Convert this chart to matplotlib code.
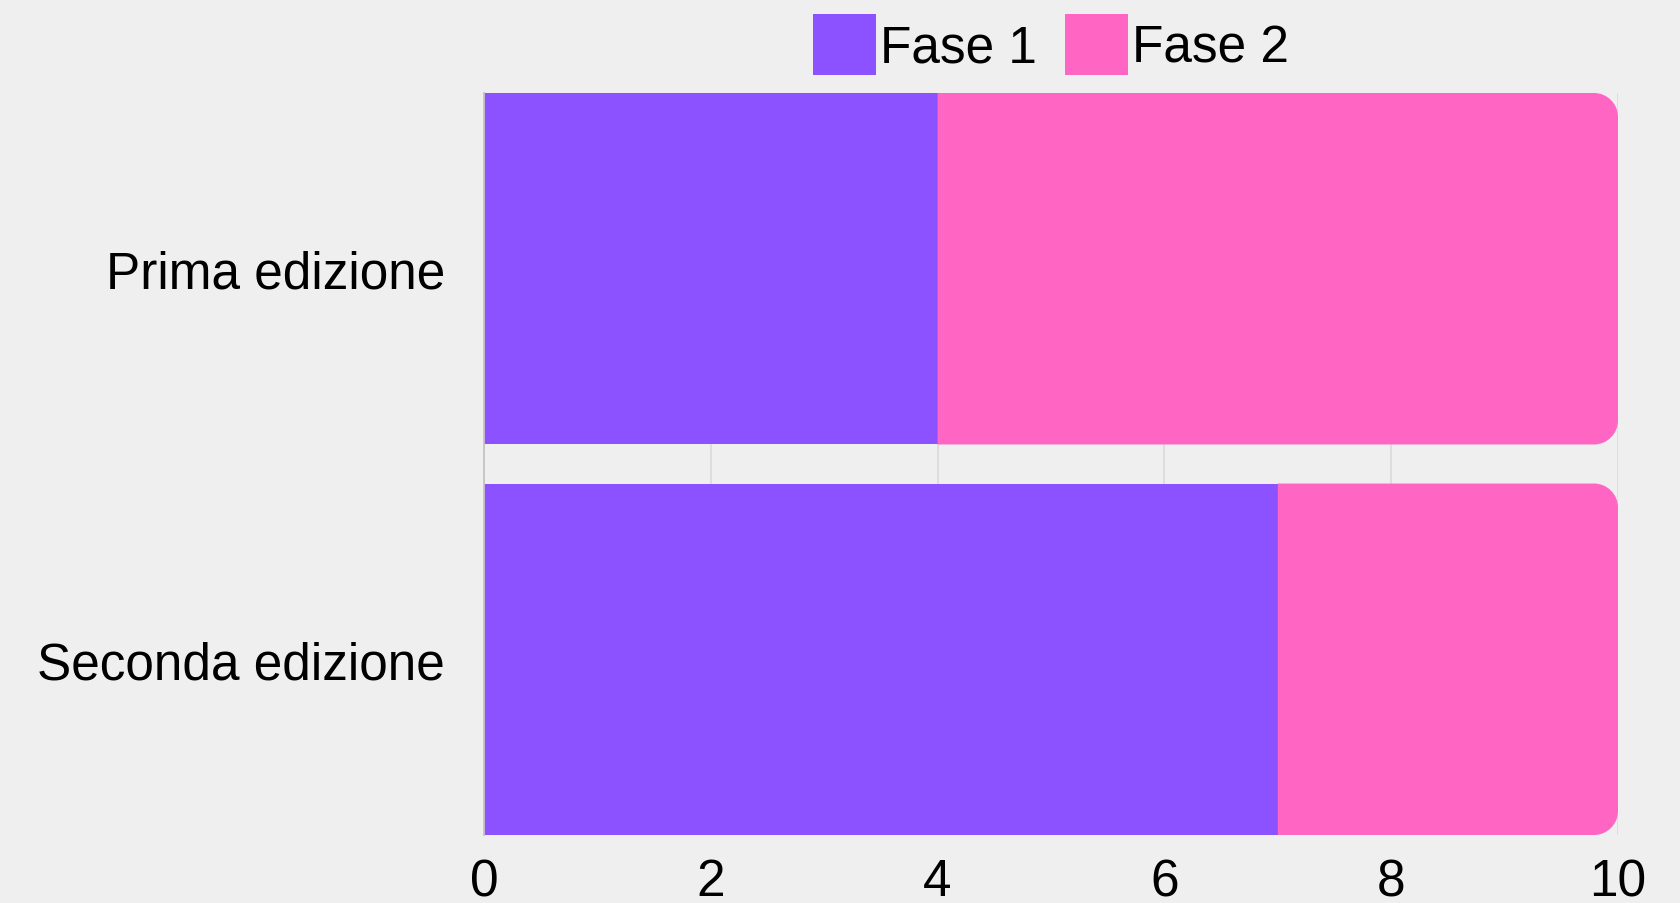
import matplotlib
matplotlib.use("Agg")
import matplotlib.pyplot as plt
from matplotlib.patches import Patch, PathPatch
from matplotlib.path import Path

plt.rcParams['font.family'] = ['Liberation Sans', 'DejaVu Sans']

categories = ["Prima edizione", "Seconda edizione"]
series_names = ["Fase 1", "Fase 2"]
fase1 = [4, 7]
fase2 = [6, 3]
x_ticks = [0, 2, 4, 6, 8, 10]

purple = "#8C52FF"
pink = "#FF66C4"
bg = "#EFEFEF"
grid_c = "#DCDCDC"
fs = 37.0

fig = plt.figure(figsize=(16.8, 9.04), dpi=100, facecolor=bg)
ax = fig.add_axes([484 / 1680, 1 - 836 / 904, (1618 - 484) / 1680, (836 - 94) / 904])
ax.set_facecolor(bg)

ax.set_xlim(0, 10)
ax.set_ylim(1.45, -0.45)
ax.set_xticks(x_ticks)
ax.set_xticklabels([str(t) for t in x_ticks])
ypos = list(range(len(categories)))
ax.set_yticks(ypos)
ax.set_yticklabels(categories)

ax.grid(axis='x', color=grid_c, linewidth=1.3, zorder=0)
ax.set_axisbelow(True)
for s in ['top', 'right', 'bottom']:
    ax.spines[s].set_visible(False)
ax.spines['left'].set_color("#C4C4C4")
ax.spines['left'].set_linewidth(1.3)
ax.tick_params(axis='x', length=0, pad=16, labelsize=fs)
ax.tick_params(axis='y', length=0, pad=28, labelsize=fs)

h = 0.9
ax.barh(ypos, fase1, height=h, color=purple, linewidth=0, zorder=2)

# Fase 2 segments: square on the left, rounded on the right end
px_x = ax.bbox.width / 10.0
px_y = ax.bbox.height / 1.9
r_px = 24
rx, ry = r_px / px_x, r_px / px_y
k = 0.5523
for y, a, b in zip(ypos, fase1, fase2):
    x0, x1 = a, a + b
    yt, yb = y - h / 2, y + h / 2
    verts = [
        (x0, yt), (x1 - rx, yt),
        (x1 - rx + k * rx, yt), (x1, yt + ry - k * ry), (x1, yt + ry),
        (x1, yb - ry),
        (x1, yb - ry + k * ry), (x1 - rx + k * rx, yb), (x1 - rx, yb),
        (x0, yb), (x0, yt),
    ]
    codes = [Path.MOVETO, Path.LINETO,
             Path.CURVE4, Path.CURVE4, Path.CURVE4,
             Path.LINETO,
             Path.CURVE4, Path.CURVE4, Path.CURVE4,
             Path.LINETO, Path.CLOSEPOLY]
    ax.add_patch(PathPatch(Path(verts, codes), facecolor=pink, edgecolor='none', zorder=2))

handles = [Patch(facecolor=purple, edgecolor='none'), Patch(facecolor=pink, edgecolor='none')]
fig.legend(handles, series_names, loc='upper center', bbox_to_anchor=(1051 / 1680, 1 - 15 / 904),
           ncol=2, frameon=False, fontsize=fs, handlelength=1.22, handleheight=1.46,
           handletextpad=0.08, columnspacing=0.55, borderaxespad=0.0, borderpad=0.0)

fig.savefig("out.png", dpi=100, facecolor=bg)
